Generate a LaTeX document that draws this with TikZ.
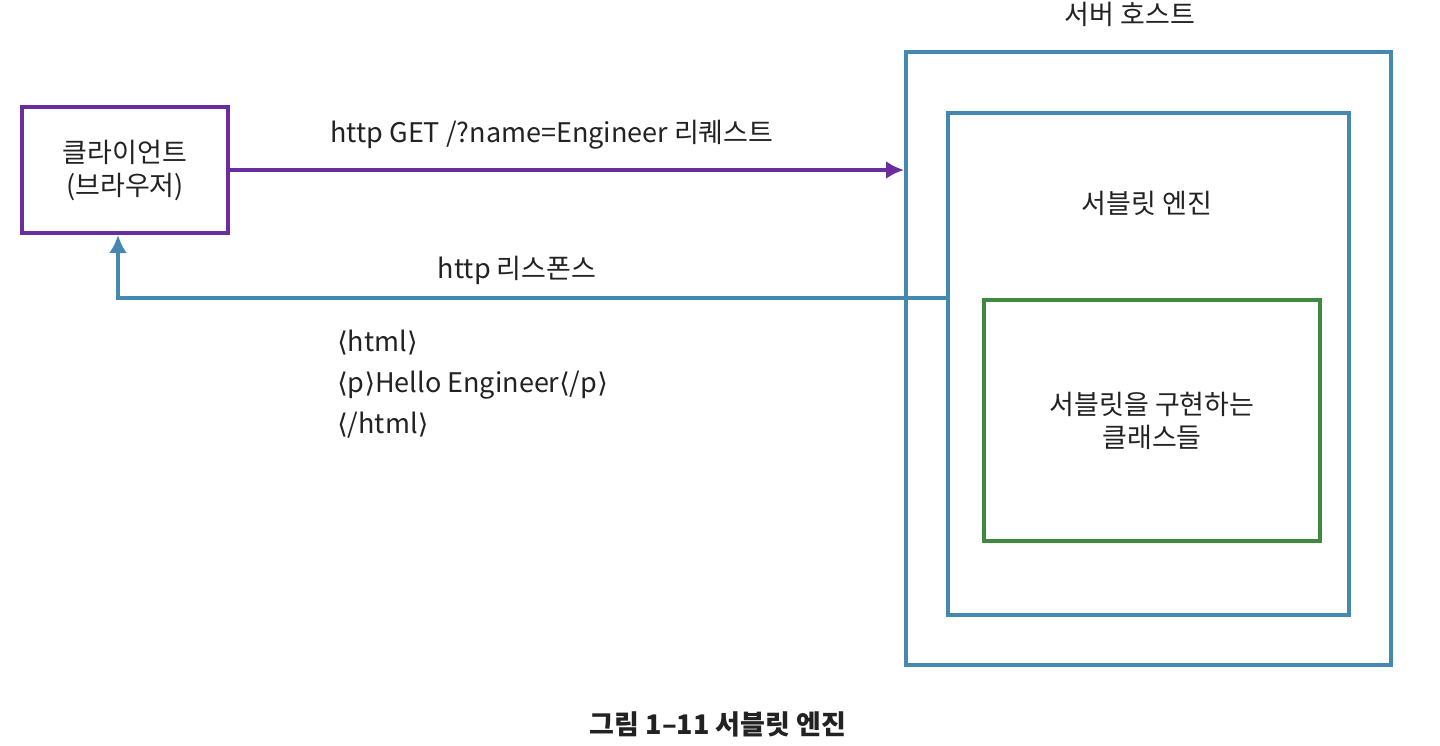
\documentclass[tikz,border=0pt]{standalone}
\usepackage{fontspec}
\setmainfont{Noto Sans CJK KR}
\newfontfamily\symfont{DejaVu Sans}
\usepackage{xcolor}
\usepackage{tikz}
\usetikzlibrary{arrows.meta,positioning,calc}
\definecolor{cClient}{HTML}{6B2D9E}
\definecolor{cHost}{HTML}{4689B0}
\definecolor{cClass}{HTML}{3E8A3E}
\definecolor{cText}{HTML}{222222}
\newcommand{\lab}{{\symfont ⟨}}
\newcommand{\rab}{{\symfont ⟩}}
\tikzset{
  client/.style={draw=cClient, line width=2pt, align=center, font=\fontsize{13.5}{16.5}\selectfont,
                 text=cText, minimum width=103pt, minimum height=63pt, inner sep=0pt},
  hostbox/.style={draw=cHost, line width=2pt, minimum width=242.5pt, minimum height=306.5pt, inner sep=0pt},
  engbox/.style ={draw=cHost, line width=2pt, minimum width=200.5pt, minimum height=251pt, inner sep=0pt},
  classbox/.style={draw=cClass, line width=2pt, align=center, font=\fontsize{13.5}{16.5}\selectfont,
                 text=cText, minimum width=168pt, minimum height=120.5pt, inner sep=0pt},
  lbl/.style  ={font=\fontsize{13.5}{16.5}\selectfont, text=cText, inner sep=0pt},
  reqarrow/.style={-{Latex[length=9pt,width=9pt]}, line width=2pt, draw=cClient},
  resarrow/.style={-{Latex[length=9pt,width=9pt]}, line width=2pt, draw=cHost},
}
\begin{document}
\begin{tikzpicture}[x=0.5pt,y=-0.5pt]
  \useasboundingbox (0,0) rectangle (1440,745);
  % boxes
  \node[client] (client) at (125,170) {클라이언트\\(브라우저)};
  \node[hostbox] (host) at (1148.5,358.5) {};
  \node[engbox] (engine) at (1148.5,364) {};
  \node[classbox] (classes) at (1152,420.5) {서블릿을 구현하는\\클래스들};
  % labels
  \node[lbl] (hostlbl) at (1130,14) {서버 호스트};
  \node[lbl] (englbl) at (1147,203) {서블릿 엔진};
  \node[lbl] (reqlbl) at (552,135) {http GET /?name=Engineer 리퀘스트};
  \node[lbl] (reslbl) at (517,270) {http 리스폰스};
  \node[lbl, align=left, anchor=north west, font=\fontsize{13.5}{20.5}\selectfont] (html) at (337,330)
    {\lab html\rab\\\lab p\rab Hello Engineer\lab/p\rab\\\lab/html\rab};
  \node[lbl, font=\fontsize{13.5}{16}\selectfont\bfseries] (caption) at (718,724) {그림 1–11 서블릿 엔진};
  % connectors
  \coordinate (resstart) at (engine.west |- classes.north);
  \coordinate (resend) at ($(client.south)+(-7,0)$);
  \draw[reqarrow] (client.east) -- (client.east -| host.west);
  \draw[resarrow] (resstart) -| (resend);
\end{tikzpicture}
\end{document}
